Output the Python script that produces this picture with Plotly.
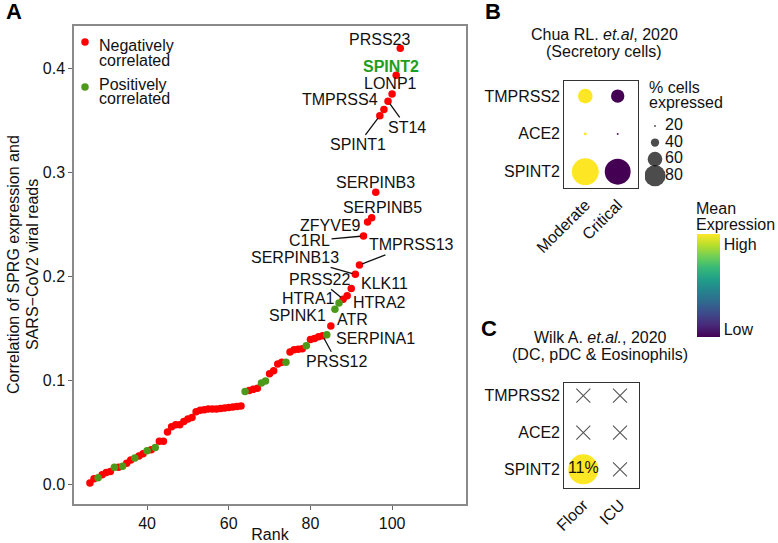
import plotly.graph_objects as go

W, H = 778, 543
FONT = "Liberation Sans, Arial, Helvetica, sans-serif"
RED = "#FF0000"
GREEN = "#4D9A1B"
TXT = "#111111"

# ---------------- Panel A data ----------------
rank = list(range(26, 103))
corr = [0.001, 0.005, 0.006, 0.009, 0.011, 0.012, 0.016, 0.016, 0.017, 0.020,
        0.023, 0.025, 0.027, 0.029, 0.032, 0.033, 0.035, 0.041, 0.041, 0.050,
        0.055, 0.057, 0.057, 0.060, 0.0625, 0.064, 0.0695, 0.071, 0.0715, 0.072,
        0.072, 0.0722, 0.0725, 0.073, 0.0735, 0.074, 0.0745, 0.075, 0.089, 0.090,
        0.091, 0.092, 0.097, 0.099, 0.106, 0.109, 0.1155, 0.117, 0.117, 0.127,
        0.129, 0.1295, 0.130, 0.133, 0.139, 0.140, 0.1415, 0.1425, 0.1435, 0.152,
        0.168, 0.174, 0.1776, 0.181, 0.188, 0.2016, 0.2106, 0.2385, 0.252, 0.256,
        0.2805, 0.354, 0.360, 0.368, 0.375, 0.393, 0.419]
positive_ranks = [28, 32, 34, 37, 40, 42, 64, 68, 69, 74, 79, 84, 86, 87]
direction = ["pos" if r in positive_ranks else "neg" for r in rank]
legend_labels = [["Negatively", "correlated"], ["Positively", "correlated"]]

label_gene = ["PRSS23", "SPINT2", "LONP1", "TMPRSS4", "ST14", "SPINT1",
              "SERPINB3", "SERPINB5", "ZFYVE9", "C1RL", "TMPRSS13", "SERPINB13",
              "KLK11", "PRSS22", "HTRA2", "HTRA1", "SPINK1", "ATR", "SERPINA1",
              "PRSS12"]
label_rank = [102, 101, 100, 98, 99, 97, 96, 95, 94, 93, 92, 91, 90, 88, 89,
              87, 86, 85, 84, 83]

# label placement (pixel offsets of label centre from its point; line flag)
LABEL_LAYOUT = {
    "PRSS23": (-21, -9, False), "SPINT2": (-5, -9, False),
    "LONP1": (-2, -11, False), "TMPRSS4": (-44, -10, False),
    "ST14": (19, 26, True), "SPINT1": (-22, 29, True),
    "SERPINB3": (0, -10, False), "SERPINB5": (11, -10, False),
    "ZFYVE9": (-37, 4, False), "C1RL": (-54, 5, True),
    "TMPRSS13": (52, -20, True), "SERPINB13": (-60, -17, True),
    "KLK11": (33, -5, False), "PRSS22": (-24, -20, True),
    "HTRA2": (32, 7, False), "HTRA1": (-31, -5, False),
    "SPINK1": (-37, 6, False), "ATR": (22, -6, False),
    "SERPINA1": (49, 4, False), "PRSS12": (14, 26, True),
}

# ---------------- Panel B data ----------------
chua_genes = ["SPINT2", "ACE2", "TMPRSS2"]
chua_groups = ["Moderate", "Critical"]
chua_pct = {"Moderate": [98, 23, 60], "Critical": [95, 20, 56]}
chua_expr = {"Moderate": [1.0, 1.0, 1.0], "Critical": [0.0, 0.0, 0.0]}
size_legend_pct = [20, 40, 60, 80]

# ---------------- Panel C data ----------------
wilk_genes = ["SPINT2", "ACE2", "TMPRSS2"]
wilk_groups = ["Floor", "ICU"]
wilk_pct = {"Floor": [11, None, None], "ICU": [None, None, None]}


def dot_size(p):
    return max(0.32 * p - 4.5, 1.5)


def px_x(a, b):
    return [a / W, b / W]


def px_y(top, bottom):
    return [1 - bottom / H, 1 - top / H]


def ptext(x, y, text, size=16, xanchor="center", angle=0, color=TXT):
    return dict(x=x / W, y=1 - y / H, xref="paper", yref="paper", text=text,
                showarrow=False, xanchor=xanchor, yanchor="middle",
                textangle=angle, font=dict(size=size, family=FONT, color=color))


fig = go.Figure()

# ---- Panel A scatter ----
for key, col in [("neg", RED), ("pos", GREEN)]:
    xs = [r for r, d in zip(rank, direction) if d == key]
    ys = [c for c, d in zip(corr, direction) if d == key]
    fig.add_trace(go.Scatter(x=xs, y=ys, mode="markers",
                             marker=dict(color=col, size=7.5, line=dict(width=0)),
                             xaxis="x", yaxis="y", showlegend=False))

# legend keys for panel A (own tiny axes)
fig.add_trace(go.Scatter(x=[0, 0], y=[0, 1], mode="markers", xaxis="x5", yaxis="y5",
                         showlegend=False,
                         marker=dict(color=[RED, GREEN], size=7.5, line=dict(width=0))))

annotations = []
for g, r in zip(label_gene, label_rank):
    v = corr[rank.index(r)]
    dx, dy, line = LABEL_LAYOUT[g]
    is_key = g == "SPINT2"
    txt = f"<b>{g}</b>" if is_key else g
    fcol = "#1E9E1E" if is_key else TXT
    if line:
        annotations.append(dict(x=r, y=v, xref="x", yref="y", text=txt,
                                showarrow=True, arrowhead=0, arrowwidth=1.3,
                                arrowcolor=TXT, ax=dx, ay=dy, standoff=3,
                                font=dict(size=16, color=fcol, family=FONT)))
    else:
        annotations.append(dict(x=r, y=v, xref="x", yref="y", text=txt,
                                showarrow=False, xshift=dx, yshift=-dy,
                                font=dict(size=16, color=fcol, family=FONT)))

# ---- Panel B dots ----
bx, by, bs, bc = [], [], [], []
for gi, grp in enumerate(chua_groups):
    for yi, gene in enumerate(chua_genes):
        bx.append(gi)
        by.append(yi)
        bs.append(dot_size(chua_pct[grp][yi]))
        bc.append(chua_expr[grp][yi])
fig.add_trace(go.Scatter(
    x=bx, y=by, mode="markers", xaxis="x2", yaxis="y2", showlegend=False,
    marker=dict(size=bs, color=bc, colorscale="Viridis", cmin=0, cmax=1,
                line=dict(width=0), opacity=1,
                colorbar=dict(x=697 / W, xanchor="left", y=1 - 234 / H,
                              yanchor="top", len=103, lenmode="pixels",
                              thickness=23, thicknessmode="pixels",
                              xpad=0, ypad=0, outlinewidth=0,
                              tickvals=[0.07, 0.9], ticktext=["Low", "High"],
                              ticks="", tickfont=dict(size=16, family=FONT, color=TXT)))))

# size legend
fig.add_trace(go.Scatter(x=[0] * len(size_legend_pct), y=size_legend_pct,
                         mode="markers", xaxis="x4", yaxis="y4", showlegend=False,
                         marker=dict(size=[dot_size(p) for p in size_legend_pct],
                                     color="black", line=dict(width=0))))
fig.add_trace(go.Scatter(x=[1] * len(size_legend_pct), y=size_legend_pct,
                         mode="text", text=[str(p) for p in size_legend_pct],
                         textposition="middle right", xaxis="x4", yaxis="y4",
                         showlegend=False,
                         textfont=dict(size=16, family=FONT, color=TXT)))

# ---- Panel C ----
cx_x, cx_y, cv_x, cv_y, cv_t = [], [], [], [], []
for gi, grp in enumerate(wilk_groups):
    for yi, gene in enumerate(wilk_genes):
        p = wilk_pct[grp][yi]
        if p is None:
            cx_x.append(gi); cx_y.append(yi)
        else:
            cv_x.append(gi); cv_y.append(yi); cv_t.append(f"{p}%")
fig.add_trace(go.Scatter(x=cx_x, y=cx_y, mode="markers", xaxis="x3", yaxis="y3",
                         showlegend=False,
                         marker=dict(symbol="x-thin-open", size=14, color="#555555",
                                     line=dict(width=1.1, color="#555555"))))
fig.add_trace(go.Scatter(x=cv_x, y=cv_y, mode="markers+text", text=cv_t,
                         textposition="middle center", xaxis="x3", yaxis="y3",
                         showlegend=False,
                         textfont=dict(size=16, family=FONT, color=TXT),
                         marker=dict(size=30, color="#FDE725", line=dict(width=0))))

axis_common = dict(showgrid=False, zeroline=False, showline=True, mirror=True,
                   automargin=False)
hidden = dict(visible=False, automargin=False)

fig.update_layout(
    width=W, height=H, margin=dict(l=0, r=0, t=0, b=0, autoexpand=False),
    paper_bgcolor="white", plot_bgcolor="white",
    font=dict(family=FONT, size=16, color=TXT),
    showlegend=False,
    xaxis=dict(domain=px_x(74, 466), range=[22.1, 118.1], anchor="y",
               tickvals=[40, 60, 80, 100], ticks="outside", ticklen=4,
               tickcolor="#666", tickfont=dict(size=16),
               linecolor="#8a8a8a", linewidth=1.5,
               title=dict(text="Rank", font=dict(size=16), standoff=3),
               **axis_common),
    yaxis=dict(domain=px_y(26, 504), range=[-0.01923, 0.44038], anchor="x",
               tickvals=[0.0, 0.1, 0.2, 0.3, 0.4], tickformat=".1f",
               ticks="outside", ticklen=4, tickcolor="#666", tickfont=dict(size=16),
               linecolor="#8a8a8a", linewidth=1.5,
               **axis_common),
    xaxis2=dict(domain=px_x(564.3, 638.3), range=[-0.648, 1.636], anchor="y2",
                tickvals=[0, 1], ticktext=chua_groups, tickangle=-45, ticks="",
                tickfont=dict(size=16), linecolor="#333", linewidth=1.2,
                **axis_common),
    yaxis2=dict(domain=px_y(81, 188.3), range=[-0.44, 2.40], anchor="x2",
                tickvals=[0, 1, 2], ticktext=chua_genes, ticks="",
                tickfont=dict(size=16), linecolor="#333", linewidth=1.2,
                **axis_common),
    xaxis3=dict(domain=px_x(564.3, 639.3), range=[-0.518, 1.526], anchor="y3",
                tickvals=[0, 1], ticktext=wilk_groups, tickangle=-45, ticks="",
                tickfont=dict(size=16), linecolor="#333", linewidth=1.2,
                **axis_common),
    yaxis3=dict(domain=px_y(382.7, 488.3), range=[-0.516, 2.354], anchor="x3",
                tickvals=[0, 1, 2], ticktext=wilk_genes, ticks="",
                tickfont=dict(size=16), linecolor="#333", linewidth=1.2,
                **axis_common),
    xaxis4=dict(domain=px_x(645, 720), range=[-1, 6.5], anchor="y4", **hidden),
    yaxis4=dict(domain=px_y(110, 190), range=[97.3, 0.7], anchor="x4", **hidden),
    xaxis5=dict(domain=px_x(78, 92), range=[-1, 1], anchor="y5", **hidden),
    yaxis5=dict(domain=px_y(30, 100), range=[1.289, -0.267], anchor="x5", **hidden),
)

annotations += [
    ptext(14, 12, "<b>A</b>", size=22, color="#000"),
    ptext(493, 12, "<b>B</b>", size=22, color="#000"),
    ptext(489, 328, "<b>C</b>", size=22, color="#000"),
    # y-axis title (two lines)
    ptext(13, 265, "Correlation of SPRG expression and", angle=-90),
    ptext(32, 265, "SARS\u2212CoV2 viral reads", angle=-90),
    # panel A legend text
    ptext(97, 45.5, legend_labels[0][0], xanchor="left"),
    ptext(97, 60.5, legend_labels[0][1], xanchor="left"),
    ptext(97, 84, legend_labels[1][0], xanchor="left"),
    ptext(97, 99, legend_labels[1][1], xanchor="left"),
    # panel B title
    ptext(604, 35, "Chua RL. <i>et.al</i>, 2020"),
    ptext(604, 52, "(Secretory cells)"),
    # size legend title
    ptext(647, 87.5, "% cells", xanchor="left"),
    ptext(647, 103, "expressed", xanchor="left"),
    # colour legend title
    ptext(694, 208, "Mean", xanchor="left"),
    ptext(694, 225, "Expression", xanchor="left"),
    # panel C title
    ptext(600, 337, "Wilk A. <i>et.al.</i>, 2020"),
    ptext(600, 354, "(DC, pDC &amp; Eosinophils)"),
]
fig.update_layout(annotations=annotations)

fig.write_html("out.html", config={"displayModeBar": False},
               post_script="document.body.style.margin='0px';")
